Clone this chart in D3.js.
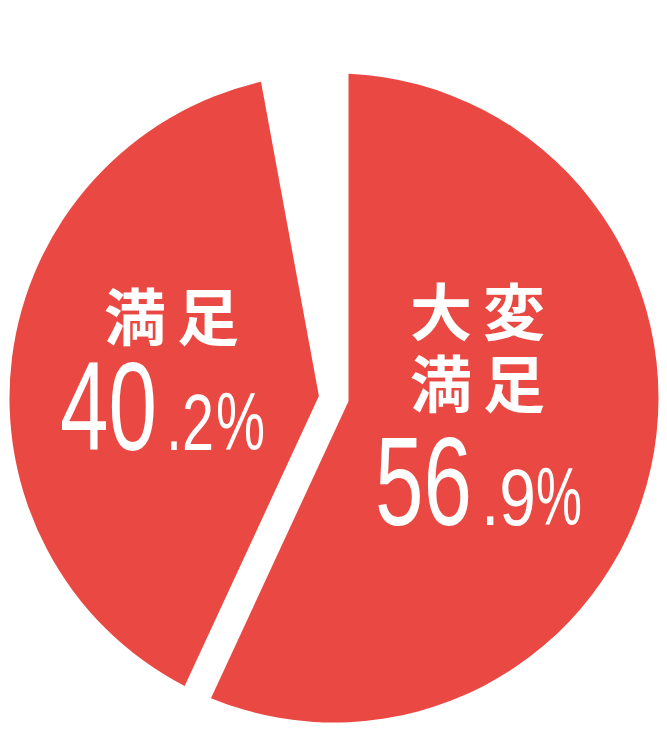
<!DOCTYPE html>
<html>
<head>
<meta charset="utf-8">
<script src="https://cdn.jsdelivr.net/npm/d3@7"></script>
<style>
  html, body { margin: 0; padding: 0; background: #ffffff; }
  svg { display: block; }
</style>
</head>
<body>
<div id="chart"></div>
<script>
// ---- data ----
const categories = ["大変満足", "満足"];
const labelLines = [["大変", "満足"], ["満足"]];
const values = [56.9, 40.2];          // percent
const numberMain = ["56", "40"];
const numberDec = [".9", ".2"];

// ---- layout ----
const W = 667, H = 731;
const cx = 334, cy = 398, R = 324.5, PAD = 14.5;
const color = "#e94942";

const svg = d3.select("#chart").append("svg")
  .attr("width", W).attr("height", H);

const remainder = 100 - d3.sum(values);
const pie = d3.pie().sort(null).value(d => d.v);
const arcs = pie(values.map((v, i) => ({ v, i })).concat([{ v: remainder, i: -1 }]));

function wedge(a0, a1) {
  const half = (a1 - a0) / 2, mid = (a0 + a1) / 2;
  const d = PAD / Math.sin(half);
  const vx = d * Math.sin(mid), vy = -d * Math.cos(mid);
  const da = Math.asin(PAD / R);
  const s = a0 + da, e = a1 - da;
  const p = d3.path();
  p.moveTo(vx, vy);
  p.lineTo(R * Math.sin(s), -R * Math.cos(s));
  p.arc(0, 0, R, s - Math.PI / 2, e - Math.PI / 2, false);
  p.closePath();
  return p.toString();
}

const g = svg.append("g").attr("transform", `translate(${cx},${cy})`);
g.selectAll("path.slice")
  .data(arcs.filter(a => a.data.i >= 0))
  .join("path")
  .attr("class", "slice")
  .attr("d", a => wedge(a.startAngle, a.endAngle))
  .attr("fill", color);

// ---- labels ----
// piece layout: [x, width] for main digits, decimal part, percent sign
const labelPos = [
  { x: 410, lines: [336, 408], ny: 525, main: [375, 97], dec: [481, 55], pct: [536, 46] },
  { x: 104, lines: [341], ny: 450, main: [60, 97], dec: [166, 48], pct: [216, 49] }
];
const jp = "'Noto Sans CJK JP', 'Noto Sans CJK SC', sans-serif";
const num = "'Liberation Sans Narrow', 'Liberation Sans', 'DejaVu Sans', sans-serif";

function piece(x, y, w, size, txt) {
  const t = svg.append("text")
    .attr("font-family", num).attr("font-size", size)
    .attr("fill", "#fff")
    .text(txt);
  const nat = t.node().getComputedTextLength() || w;
  t.attr("transform", `translate(${x},${y}) scale(${w / nat},1)`);
}

categories.forEach((c, i) => {
  const lp = labelPos[i];
  const name = svg.append("text")
    .attr("font-family", jp).attr("font-weight", 700)
    .attr("font-size", 62).attr("letter-spacing", 11)
    .attr("fill", "#fff");
  labelLines[i].forEach((t, j) => {
    name.append("tspan")
      .attr("x", lp.x).attr("y", lp.lines[j])
      .text(t);
  });
  piece(lp.main[0], lp.ny, lp.main[1], 127, numberMain[i]);
  piece(lp.dec[0], lp.ny, lp.dec[1], 80, numberDec[i]);
  piece(lp.pct[0], lp.ny, lp.pct[1], 81, "%");
});
</script>
</body>
</html>
